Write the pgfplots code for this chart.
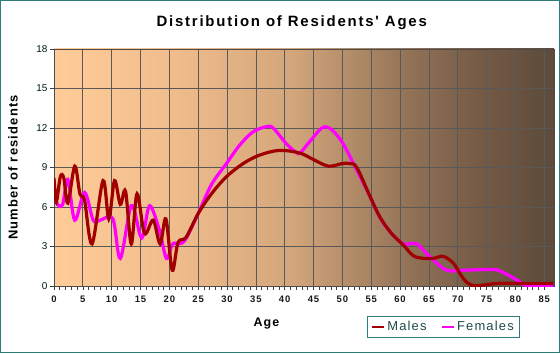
\documentclass[border=0pt]{standalone}
\usepackage{pgfplots}
\pgfplotsset{compat=1.18}
\usepackage{fontspec}
\setmainfont{Liberation Sans}
\newfontfamily\spaced[LetterSpace=9]{Liberation Sans}
\newfontfamily\tspaced[LetterSpace=12]{Liberation Sans}
\definecolor{bg0}{HTML}{FFCC99}
\definecolor{bg1}{HTML}{F0BC8C}
\definecolor{bg2}{HTML}{D2A57A}
\definecolor{bg3}{HTML}{8F7055}
\definecolor{bg4}{HTML}{735A45}
\definecolor{bg5}{HTML}{5C4A3B}
\definecolor{males}{HTML}{A00000}
\definecolor{females}{HTML}{FF00FF}
\definecolor{frame}{HTML}{2E7D7D}
\definecolor{legtext}{HTML}{1F4A4A}
\pgfdeclarehorizontalshading{plotbg}{100bp}{color(0bp)=(bg0); color(25bp)=(bg0); color(37bp)=(bg1); color(49bp)=(bg2); color(61bp)=(bg3); color(68bp)=(bg4); color(75bp)=(bg5); color(100bp)=(bg5)}
\begin{document}
\begin{tikzpicture}[x=1bp,y=1bp]
\fill[white] (0,0) rectangle (560,353);
\draw[frame,line width=1bp] (0.5,0.5) rectangle (559.5,352.5);
\node[font=\tspaced\bfseries\fontsize{15}{17}\selectfont] at (291.7,330) {Distribution of Residents' Ages};
\node[font=\spaced\bfseries\fontsize{12.5}{14}\selectfont] at (266.5,29) {Age};
\node[font=\spaced\bfseries\fontsize{13}{15}\selectfont,rotate=90] at (13,185.5) {Number of residents};
\begin{axis}[
  at={(54bp,67bp)}, anchor=south west,
  width=500bp, height=237bp, scale only axis,
  xmin=0, xmax=86.7, ymin=0, ymax=18,
  xtick={0,5,...,85}, ytick={0,3,...,18},
  minor x tick num=4,
  tick align=outside,
  major tick length=4bp, minor tick length=4bp,
  tick style={color=black!75, line width=0.6bp},
  xtick pos=bottom, ytick pos=left,
  grid=major,
  major grid style={color=black!65, line width=0.7bp},
  axis line style={color=black!70, line width=0.8bp},
  axis background/.style={shading=plotbg},
  /pgf/number format/assume math mode=true,
  xticklabel style={font=\spaced\bfseries\fontsize{9.5}{11}\selectfont, text=black!90, yshift=-2bp},
  yticklabel style={font=\fontsize{10}{12}\selectfont, text=black!80!teal, xshift=1bp},
  legend style={at={(0.625,-0.1266)}, anchor=north west, draw=frame, line width=0.8bp, fill=none,
    font=\spaced\fontsize{13}{15}\selectfont, text=legtext, legend columns=2,
    inner xsep=4bp, inner ysep=3bp,
    /tikz/every even column/.append style={column sep=12bp}},
  legend image code/.code={\draw[#1, line width=2.5bp] (0bp,0bp) -- (12bp,0bp);},
]
\addplot[females, line width=3.2bp, smooth, tension=0.55, forget plot] coordinates {
(0,7.2)(0.6,6.2)(1.5,6.2)(2.4,8.1)(3.6,5.0)(5.3,7.1)(6.8,5.0)(8,5.0)(10.2,5.1)(11.5,2.1)(13.4,6.1)(14.9,3.9)(15.5,3.9)(16.6,6.1)(18.3,4.2)(19.5,2.1)(20.6,3.2)(21.8,3.2)(22.9,3.6)(25,5.5)(27.3,7.7)(29.9,9.3)(32.2,10.7)(34.5,11.7)(36.8,12.1)(38,12.0)(40.3,10.8)(42,10.15)(42.7,10.1)(44.4,11.0)(47,12.1)(49.7,11.1)(52.5,8.8)(54.8,6.8)(56.5,5.2)(58.5,4.0)(60.6,3.2)(62.9,3.2)(65.2,2.2)(68.1,1.2)(71,1.2)(75.6,1.25)(77.3,1.15)(80.3,0.45)(82,0.02)(86.6,0.02)
};
\addplot[males, line width=3.2bp, smooth, tension=0.55, forget plot] coordinates {
(0,8.2)(0.4,6.4)(1.1,8.3)(1.7,8.2)(2.4,6.3)(3.6,9.1)(4.5,7.0)(5.3,6.5)(6.6,3.2)(8.5,8.0)(9.5,5.1)(10.5,8.0)(11.5,6.2)(12.4,7.2)(13.4,3.2)(14.4,7.0)(15.7,4.0)(17.2,5.0)(18.4,3.2)(19.4,5.1)(20.5,1.2)(21.5,3.3)(22.9,3.7)(25,5.5)(27.3,7.0)(29.9,8.3)(32.8,9.3)(35.7,9.95)(39.1,10.3)(42.6,10.1)(45,9.6)(47.6,9.1)(50,9.3)(51.3,9.3)(52.5,9.0)(54.8,6.8)(56.5,5.25)(58.5,4.0)(60.6,3.1)(62.3,2.3)(64.1,2.1)(65.8,2.1)(67.5,2.25)(69.3,1.7)(71,0.55)(72.5,0.05)(75,0.1)(76.8,0.2)(80.3,0.2)(86.6,0.2)
};
\addlegendimage{males}
\addlegendentry{Males}
\addlegendimage{females}
\addlegendentry{Females}
\end{axis}
\end{tikzpicture}
\end{document}
